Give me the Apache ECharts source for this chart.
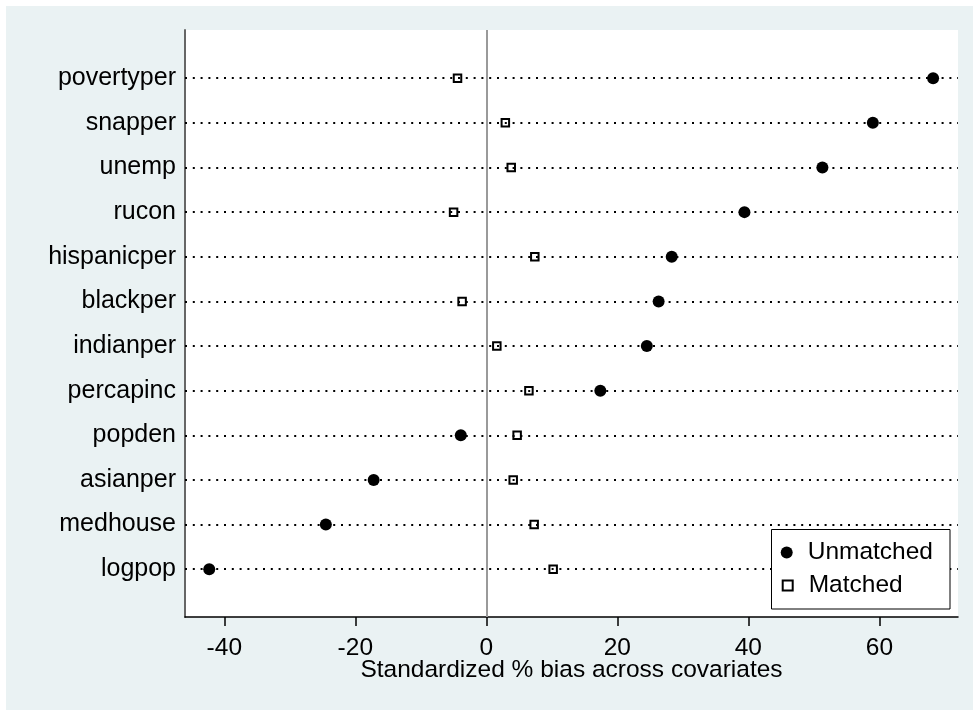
<!DOCTYPE html>
<html>
<head>
<meta charset="utf-8">
<script src="https://cdn.jsdelivr.net/npm/echarts@6/dist/echarts.min.js"></script>
<style>
html,body{margin:0;padding:0;background:#fff;}
#chart{width:973px;height:710px;}
</style>
</head>
<body>
<div id="chart"></div>
<script>
// Categories, top to bottom as displayed
var categories = ['povertyper','snapper','unemp','rucon','hispanicper','blackper','indianper','percapinc','popden','asianper','medhouse','logpop'];
// Standardized % bias, unmatched sample
var unmatched = [68.2, 59.0, 51.3, 39.4, 28.3, 26.3, 24.5, 17.4, -3.9, -17.2, -24.5, -42.3];
// Standardized % bias, matched sample
var matched = [-4.4, 2.9, 3.8, -5.0, 7.4, -3.7, 1.6, 6.5, 4.7, 4.1, 7.3, 10.2];
var xTicks = [-40, -20, 0, 20, 40, 60];
var seriesNames = ['Unmatched', 'Matched'];

var n = categories.length;
function rowPos(i){ return n - i; }
var rowValues = categories.map(function(c,i){ return rowPos(i); });

var FONT = '"Liberation Sans", Arial, Helvetica, sans-serif';
var FS = 24.5;

var chart = echarts.init(document.getElementById('chart'), null, {renderer:'canvas'});
chart.setOption({
  animation: false,
  backgroundColor: '#ffffff',
  textStyle: {fontFamily: FONT, color: '#000'},
  graphic: [
    {type:'rect', z:-10, silent:true, shape:{x:6, y:6, width:967, height:704}, style:{fill:'#EAF2F3'}},
    {type:'rect', z:-5, silent:true, shape:{x:185, y:30, width:773, height:587}, style:{fill:'#ffffff'}},
    {type:'rect', z:50, silent:true, shape:{x:771.5, y:529.5, width:178.5, height:79.5}, style:{fill:'#ffffff', stroke:'#000', lineWidth:1}}
  ],
  grid: {left:185, right:15, top:30, bottom:93, containLabel:false},
  xAxis: {
    type:'value', min:-46, max:72,
    axisLine:{show:true, onZero:false, lineStyle:{color:'#000', width:1.5}},
    axisTick:{show:true, length:9, customValues:xTicks, lineStyle:{color:'#000', width:1.5}},
    axisLabel:{show:true, customValues:xTicks, margin:19, fontSize:FS, fontFamily:FONT, color:'#000'},
    splitLine:{show:false},
    name:'Standardized % bias across covariates',
    nameLocation:'middle', nameGap:41, nameMoveOverlap:false,
    nameTextStyle:{fontSize:FS, fontFamily:FONT, color:'#000', verticalAlign:'top'}
  },
  yAxis: {
    type:'value', min:-0.07, max:13.08,
    axisLine:{show:true, onZero:false, lineStyle:{color:'#666', width:2}},
    axisTick:{show:false},
    axisLabel:{show:true, customValues:rowValues, margin:9, fontSize:25, fontFamily:FONT, color:'#000',
      formatter:function(v){ var idx = n - Math.round(v); return categories[idx] || ''; }},
    splitLine:{show:false}
  },
  legend: [
    {data:[{name:seriesNames[0], icon:'circle'}], orient:'vertical', left:780.7, top:540, padding:0,
     itemWidth:12, itemHeight:12, z:60,
     textStyle:{fontSize:FS, fontFamily:FONT, color:'#000', padding:[0,0,0,10]}},
    {data:[{name:seriesNames[1], icon:'rect'}], orient:'vertical', left:781.7, top:573, padding:0,
     itemWidth:10, itemHeight:10, z:60,
     textStyle:{fontSize:FS, fontFamily:FONT, color:'#000', padding:[0,0,0,11]}}
  ],
  series: [
    {
      type:'scatter', name:'guides', data:[], z:1, silent:true,
      markLine:{
        silent:true, symbol:['none','none'], animation:false, label:{show:false},
        data: rowValues.map(function(v){ return {yAxis:v, lineStyle:{type:[2,5.8], color:'#000', width:2}}; })
          .concat([{xAxis:0, lineStyle:{type:'solid', color:'#9a9a9a', width:2}}])
      }
    },
    {
      type:'scatter', name:seriesNames[0], z:3, symbol:'circle', symbolSize:12,
      itemStyle:{color:'#000', opacity:1},
      data: unmatched.map(function(v,i){ return [v, rowPos(i)]; })
    },
    {
      type:'scatter', name:seriesNames[1], z:4, symbol:'rect', symbolSize:7.5,
      itemStyle:{color:'rgba(255,255,255,0)', borderColor:'#000', borderWidth:2, opacity:1},
      data: matched.map(function(v,i){ return [v, rowPos(i)]; })
    }
  ]
});
</script>
</body>
</html>
